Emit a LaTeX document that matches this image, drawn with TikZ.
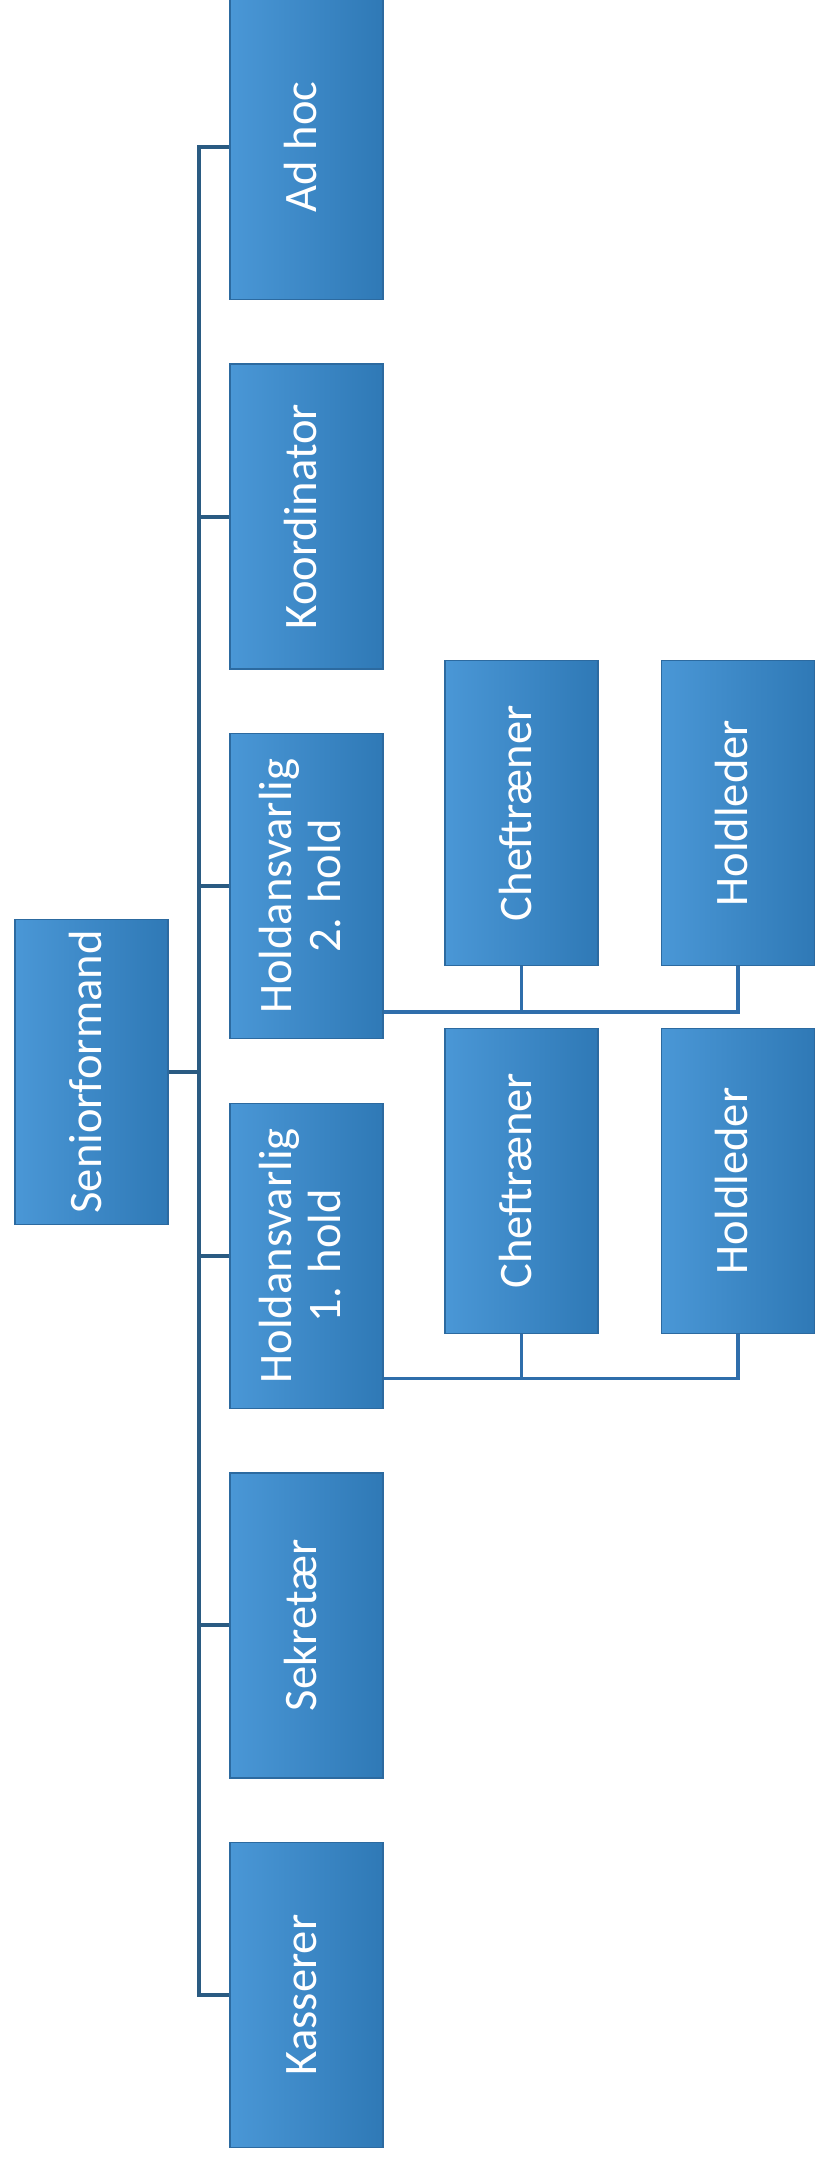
\documentclass[tikz,border=0pt]{standalone}
\usepackage{fontspec}
\setmainfont{Carlito}
\usetikzlibrary{positioning}

\definecolor{boxlight}{HTML}{4A97D6}
\definecolor{boxdark}{HTML}{2F79B6}
\definecolor{boxedge}{HTML}{2C6AA0}
\definecolor{linkcol}{HTML}{2A5B82}
\definecolor{sublinkcol}{HTML}{2F6EAB}

\newcommand{\vtext}[1]{\rotatebox{90}{\begin{tabular}{@{}c@{}}#1\end{tabular}}}

\begin{document}
\begin{tikzpicture}[node distance=7.392cm, on grid,
    box/.style = {draw=boxedge, line width=0.8pt, left color=boxlight, right color=boxdark,
                  minimum width=3.06cm, minimum height=6.1cm, inner sep=0pt,
                  text=white, font=\fontsize{26.5}{28}\selectfont},
    link/.style = {draw=linkcol, line width=2.3pt},
    sublink/.style = {draw=sublinkcol, line width=2pt}]

    \useasboundingbox (0,0) rectangle (16.32,43.24);

    % Boxes
    \node [box] (kasserer) at (6.13,3.34) {\vtext{Kasserer}};
    \node [box] (sekretaer) [above=of kasserer] {\vtext{Sekretær}};
    \node [box] (hold1) [above=of sekretaer] {\vtext{Holdansvarlig\\1. hold}};
    \node [box] (hold2) [above=of hold1] {\vtext{Holdansvarlig\\2. hold}};
    \node [box] (koord) [above=of hold2] {\vtext{Koordinator}};
    \node [box] (adhoc) [above=of koord] {\vtext{Ad hoc}};
    \node [box] (senior) at (1.83,21.8) {\vtext{Seniorformand}};

    \node [box] (chef2) [above right=1.46cm and 4.3cm of hold2] {\vtext{Cheftræner}};
    \node [box] (leder2) [right=4.33cm of chef2] {\vtext{Holdleder}};
    \node [box] (chef1) [above right=1.5cm and 4.3cm of hold1] {\vtext{Cheftræner}};
    \node [box] (leder1) [right=4.33cm of chef1] {\vtext{Holdleder}};

    % Lines
    \coordinate (trunk) at (3.98,0);
    \draw [link] (adhoc.west) -- (adhoc.west -| trunk) -- (kasserer.west -| trunk) -- (kasserer.west);
    \foreach \n in {koord, hold2, hold1, sekretaer}
        \draw [link] (\n.west) -- (\n.west -| trunk);
    \draw [link] (senior.east) -- (senior.east -| trunk);

    \coordinate (bus2) at ([yshift=0.55cm]hold2.south east);
    \coordinate (bus1) at ([yshift=0.61cm]hold1.south east);
    \draw [sublink] (bus2) -| (leder2.south);
    \draw [sublink] (chef2.south) -- (chef2.south |- bus2);
    \draw [sublink] (bus1) -| (leder1.south);
    \draw [sublink] (chef1.south) -- (chef1.south |- bus1);
\end{tikzpicture}
\end{document}
